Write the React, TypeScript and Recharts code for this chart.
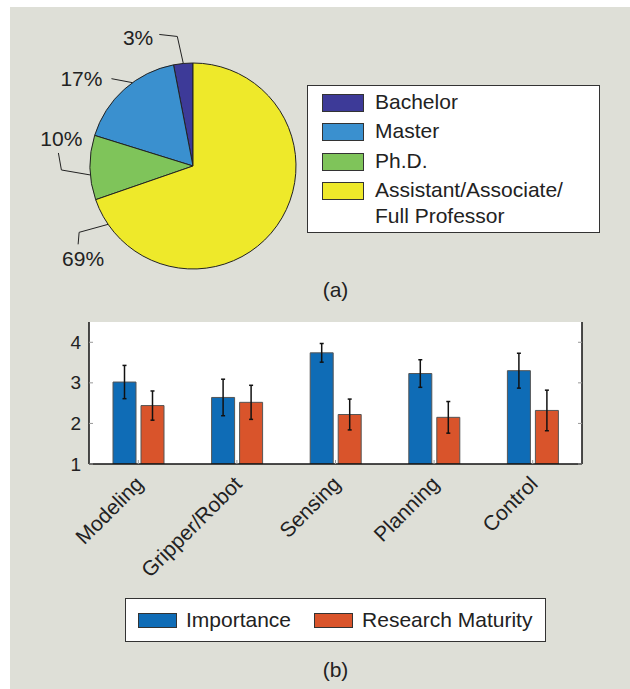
import React from "react"
import {
  Bar,
  BarChart,
  CartesianGrid,
  Cell,
  ErrorBar,
  Pie,
  PieChart,
  XAxis,
  YAxis,
} from "recharts"

// (a) pie
const degreeNames = ["Bachelor", "Master", "Ph.D.", "Assistant/Associate/\nFull Professor"]
const degreeShares = [3, 17, 10, 69]

// (b) bars
const topics = ["Modeling", "Gripper/Robot", "Sensing", "Planning", "Control"]
const importance = [3.02, 2.64, 3.74, 3.23, 3.3]
const importanceErr = [0.41, 0.45, 0.23, 0.34, 0.43]
const maturity = [2.44, 2.52, 2.22, 2.15, 2.32]
const maturityErr = [0.36, 0.42, 0.38, 0.39, 0.5]
const yTicks = [1, 2, 3, 4]

const seriesNames = ["Importance", "Research Maturity"]

const pieColors = ["#3d3a98", "#3a90cf", "#7fc45a", "#eee92a"]
const barColors = ["#0f6cb6", "#d9542b"]
const font = "'Liberation Sans', Arial, Helvetica, sans-serif"
const ink = "#222"

const pieData = degreeNames.map((name, i) => ({ name, value: degreeShares[i] }))
const barData = topics.map((name, i) => ({
  name,
  importance: importance[i],
  importanceErr: importanceErr[i],
  maturity: maturity[i],
  maturityErr: maturityErr[i],
}))

// leader lines: anchor angle on the rim, then relative elbow steps, then text offset
const leaders = [
  { angle: 95.4, steps: [[-6, -27], [-18, -2]], text: [-6, 3], anchor: "end" },
  { angle: 126, steps: [[-21, -4]], text: [-9, 0], anchor: "end" },
  { angle: 185, steps: [[-29, -5], [-3, -17]], text: [3, -14], anchor: "middle" },
  { angle: 214.5, steps: [[-29, 8], [-1, 12]], text: [5, 14], anchor: "middle" },
]

const RAD = Math.PI / 180

function PieLabel(props: any) {
  const { cx, cy, outerRadius, index, value } = props
  const l = leaders[index]
  let px = cx + outerRadius * Math.cos(l.angle * RAD)
  let py = cy - outerRadius * Math.sin(l.angle * RAD)
  const pts = [[px, py]]
  l.steps.forEach(([dx, dy]) => {
    px += dx
    py += dy
    pts.push([px, py])
  })
  return (
    <g>
      <polyline
        points={pts.map((p) => p.join(",")).join(" ")}
        fill="none"
        stroke={ink}
        strokeWidth={1}
      />
      <text
        x={px + l.text[0]}
        y={py + l.text[1]}
        textAnchor={l.anchor}
        dominantBaseline="central"
        fontSize={21}
        fontFamily={font}
        fill={ink}
      >
        {value}%
      </text>
    </g>
  )
}

const YTick = ({ x, y, payload }: any) => (
  <g>
    <line x1={x + 8} x2={x + 12} y1={y} y2={y} stroke="#999" strokeWidth={1} />
    <text x={x} y={y} textAnchor="end" dominantBaseline="central" fontSize={19} fontFamily={font} fill={ink}>
      {payload.value}
    </text>
  </g>
)

const RightTick = ({ x, y }: any) => (
  <line x1={x - 8} x2={x - 12} y1={y} y2={y} stroke="#999" strokeWidth={1} />
)

const TopTick = ({ x, y }: any) => (
  <line x1={x} x2={x} y1={y + 8} y2={y + 12} stroke="#999" strokeWidth={1} />
)

const XTick = ({ x, y, payload }: any) => (
  <g>
    <line x1={x} x2={x} y1={y - 8} y2={y - 12} stroke="#999" strokeWidth={1} />
    <text
      transform={`translate(${x + 1},${y + 8}) rotate(-45)`}
      textAnchor="end"
      dominantBaseline="central"
      fontSize={21}
      fontFamily={font}
      fill={ink}
    >
      {payload.value}
    </text>
  </g>
)

const swatch = (color: string, w: number, h: number): React.CSSProperties => ({
  width: w,
  height: h,
  background: color,
  border: "1px solid #333",
  boxSizing: "border-box",
  flexShrink: 0,
})

export default function App() {
  return (
    <div
      style={{
        position: "absolute",
        left: 0,
        top: 0,
        width: 630,
        height: 689,
        background: "#fff",
        fontFamily: font,
        color: ink,
      }}
    >
      <div style={{ position: "absolute", left: 10, top: 7, width: 620, height: 682, background: "#dedfd7" }} />

      <div style={{ position: "absolute", left: 0, top: 0 }}>
        <PieChart width={630} height={300} margin={{ top: 0, right: 0, bottom: 0, left: 0 }}>
          <Pie
            data={pieData}
            dataKey="value"
            nameKey="name"
            cx={193}
            cy={166}
            outerRadius={103}
            startAngle={90}
            endAngle={450}
            stroke={ink}
            strokeWidth={1}
            label={PieLabel}
            labelLine={false}
            isAnimationActive={false}
          >
            {pieData.map((d, i) => (
              <Cell key={d.name} fill={pieColors[i]} />
            ))}
          </Pie>
        </PieChart>
      </div>

      <div
        style={{
          position: "absolute",
          left: 307,
          top: 85,
          width: 293,
          height: 148,
          boxSizing: "border-box",
          border: "1.5px solid #333",
          background: "#fff",
          padding: "8px 0 0 14px",
          fontSize: 21,
        }}
      >
        {degreeNames.map((name, i) => (
          <div key={name} style={{ display: "flex", alignItems: "flex-start", height: i < 3 ? 29.3 : 54 }}>
            <div style={swatch(pieColors[i], 42, 18)} />
            <div style={{ marginLeft: 11, whiteSpace: "pre-line", lineHeight: "26px", marginTop: -5 }}>{name}</div>
          </div>
        ))}
      </div>

      <div style={{ position: "absolute", left: 0, top: 278, width: 671, textAlign: "center", fontSize: 21 }}>
        (a)
      </div>

      <div style={{ position: "absolute", left: 0, top: 300 }}>
        <BarChart
          width={630}
          height={389}
          data={barData}
          margin={{ top: 22, right: 0, bottom: 0, left: 0 }}
          barSize={23}
          barGap={5}
        >
          <CartesianGrid horizontal={false} vertical={false} fill="#fff" />
          <XAxis
            dataKey="name"
            height={225}
            interval={0}
            axisLine={{ stroke: "#111", strokeWidth: 1.5 }}
            tickLine={false}
            tick={<XTick />}
          />
          <XAxis
            xAxisId="t"
            orientation="top"
            type="number"
            domain={[-0.5, topics.length - 0.5]}
            ticks={topics.map((_, i) => i)}
            allowDataOverflow
            height={0}
            axisLine={false}
            tickLine={false}
            tick={<TopTick />}
          />
          <YAxis
            width={89}
            domain={[1, 4.5]}
            ticks={yTicks}
            allowDataOverflow
            axisLine={{ stroke: "#111", strokeWidth: 1.5 }}
            tickLine={false}
            tick={<YTick />}
          />
          <YAxis
            yAxisId="r"
            orientation="right"
            width={48}
            domain={[1, 4.5]}
            ticks={yTicks}
            allowDataOverflow
            axisLine={{ stroke: "#111", strokeWidth: 1.5 }}
            tickLine={false}
            tick={<RightTick />}
          />
          <Bar dataKey="importance" fill={barColors[0]} stroke="#555" strokeWidth={1} isAnimationActive={false}>
            <ErrorBar dataKey="importanceErr" width={2} stroke="#111" strokeWidth={1.5} isAnimationActive={false} />
          </Bar>
          <Bar dataKey="maturity" fill={barColors[1]} stroke="#555" strokeWidth={1} isAnimationActive={false}>
            <ErrorBar dataKey="maturityErr" width={2} stroke="#111" strokeWidth={1.5} isAnimationActive={false} />
          </Bar>
        </BarChart>
      </div>

      <div
        style={{
          position: "absolute",
          left: 125,
          top: 598,
          width: 421,
          height: 44,
          boxSizing: "border-box",
          border: "1.5px solid #333",
          background: "#fff",
          display: "flex",
          alignItems: "center",
          paddingLeft: 12,
          fontSize: 21,
        }}
      >
        {seriesNames.map((name, i) => (
          <div key={name} style={{ display: "flex", alignItems: "center", marginRight: i === 0 ? 23 : 0 }}>
            <div style={swatch(barColors[i], 39, 15)} />
            <div style={{ marginLeft: 9 }}>{name}</div>
          </div>
        ))}
      </div>

      <div style={{ position: "absolute", left: 0, top: 658, width: 671, textAlign: "center", fontSize: 21 }}>
        (b)
      </div>
    </div>
  )
}
